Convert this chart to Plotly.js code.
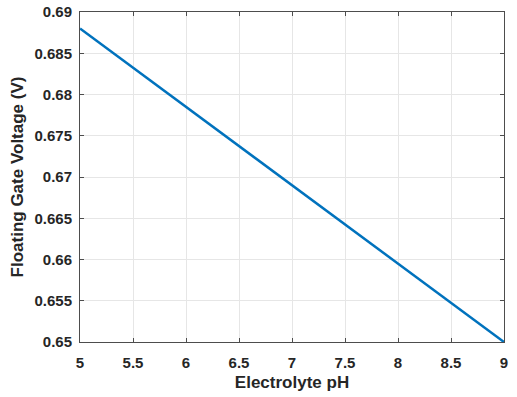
<!DOCTYPE html>
<html><head><meta charset="utf-8">
<script src="https://cdn.plot.ly/plotly-3.0.1.min.js"></script>
<style>html,body{margin:0;padding:0;background:#fff}#c{width:517px;height:397px}</style>
</head><body><div id="c"></div>
<script>
var ph = [5, 9];
var voltage = [0.688, 0.650];
var xTicks = [5, 5.5, 6, 6.5, 7, 7.5, 8, 8.5, 9];
var yTicks = [0.65, 0.655, 0.66, 0.665, 0.67, 0.675, 0.68, 0.685, 0.69];

var fam = 'Liberation Sans, Arial, sans-serif';
var fnt = {family: fam, size: 15, color: '#262626', weight: 'bold'};
var tfnt = {family: fam, size: 17, color: '#262626', weight: 'bold'};
var axisCommon = {
  showline: true, linecolor: '#4d4d4d', linewidth: 1, mirror: 'ticks',
  ticks: 'inside', ticklen: 4, tickcolor: '#4d4d4d', tickwidth: 1,
  showgrid: true, gridcolor: '#e6e6e6', gridwidth: 1, zeroline: false,
  tickfont: fnt
};
var layout = {
  width: 517, height: 397,
  margin: {l: 80, r: 13, t: 12, b: 55},
  paper_bgcolor: '#fff', plot_bgcolor: '#fff',
  showlegend: false,
  xaxis: Object.assign({}, axisCommon, {
    range: [5, 9], tickvals: xTicks, ticktext: xTicks.map(String),
    ticklabelstandoff: 7,
    title: {text: 'Electrolyte pH', font: tfnt, standoff: 6}
  }),
  yaxis: Object.assign({}, axisCommon, {
    range: [0.65, 0.69], tickvals: yTicks, ticktext: yTicks.map(String),
    ticklabelstandoff: 4,
    title: {text: 'Floating Gate Voltage (V)', font: tfnt, standoff: 6}
  })
};
var trace = {x: ph, y: voltage, mode: 'lines', type: 'scatter',
  line: {color: '#0072BD', width: 2.5}};
Plotly.newPlot('c', [trace], layout, {staticPlot: true, displayModeBar: false});
</script></body></html>
